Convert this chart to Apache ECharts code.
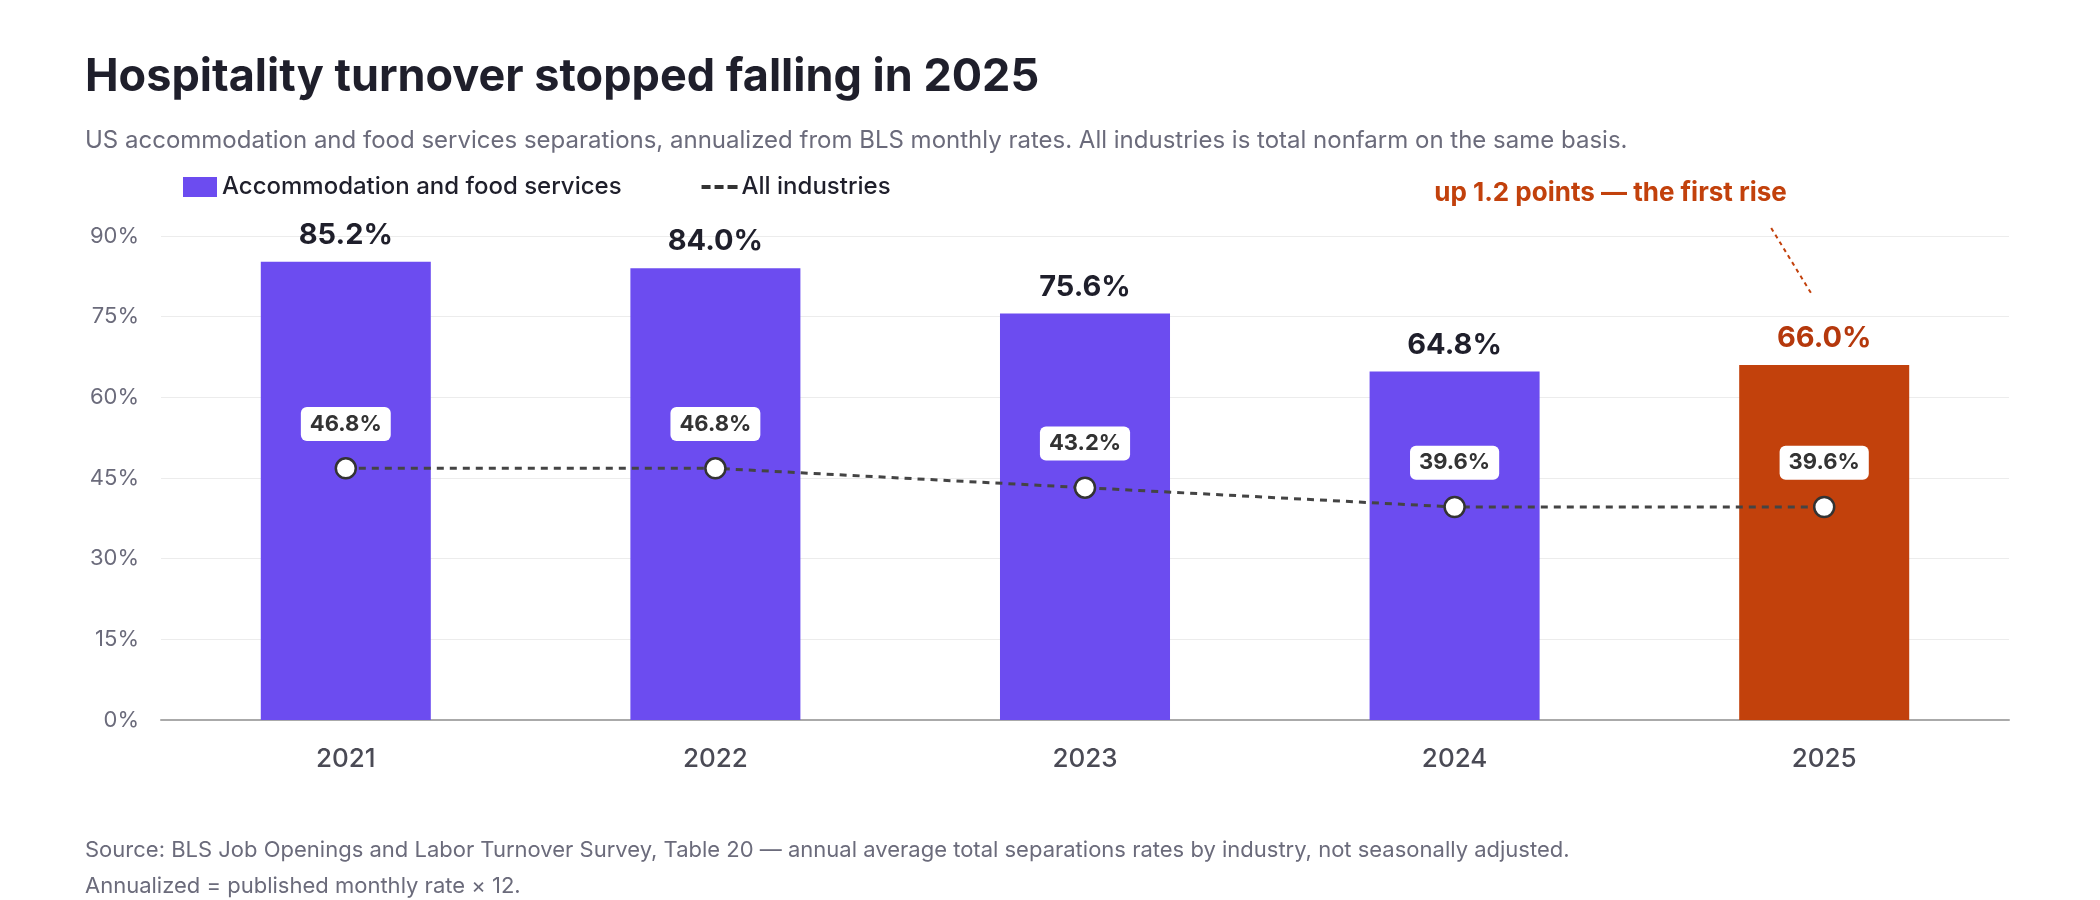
<!DOCTYPE html>
<html><head><meta charset="utf-8">
<script src="https://cdn.jsdelivr.net/npm/echarts@6/dist/echarts.min.js"></script>
<style>html,body{margin:0;padding:0;background:#fff}#c{width:2100px;height:900px}</style>
</head><body><div id="c"></div>
<script>
const years = ['2021','2022','2023','2024','2025'];
const hospitality = [85.2, 84.0, 75.6, 64.8, 66.0];
const allIndustries = [46.8, 46.8, 43.2, 39.6, 39.6];
const yTicks = [0, 15, 30, 45, 60, 75, 90];
const PURPLE = '#6c4cf0', RED = '#c2410c', DARK = '#1f1f2b', GREY = '#6b6b7b';
const F = 'Inter, "Noto Sans", sans-serif';
const chart = echarts.init(document.getElementById('c'));
chart.setOption({
  backgroundColor: '#fff',
  textStyle: { fontFamily: F },
  title: [
    { text: 'Hospitality turnover stopped falling in 2025', left: 80, top: 50,
      textStyle: { fontFamily: F, fontSize: 45, fontWeight: 'bold', color: DARK } },
    { text: 'US accommodation and food services separations, annualized from BLS monthly rates. All industries is total nonfarm on the same basis.',
      left: 80, top: 124, textStyle: { fontFamily: F, fontSize: 24, fontWeight: 'normal', color: GREY } },
    { text: 'Source: BLS Job Openings and Labor Turnover Survey, Table 20 — annual average total separations rates by industry, not seasonally adjusted.\nAnnualized = published monthly rate × 12.',
      left: 80, top: 827, textStyle: { fontFamily: F, fontSize: 22, fontWeight: 'normal', color: GREY, lineHeight: 36 } }
  ],
  legend: {
    left: 178, top: 170, itemGap: 80, itemWidth: 34, itemHeight: 20,
    textStyle: { fontFamily: F, fontSize: 24, color: DARK, fontWeight: 500 },
    data: [
      { name: 'Accommodation and food services', icon: 'rect' },
      { name: 'All industries', icon: 'path://M0,9h7v2h-7zM13,9h7v2h-7zM26,9h8v2h-8z', itemStyle: { color: '#444' } }
    ]
  },
  grid: { left: 161, right: 91, top: 236, bottom: 180 },
  xAxis: {
    type: 'category', data: years,
    axisLine: { lineStyle: { color: '#aaa', width: 2 } }, axisTick: { show: false },
    axisLabel: { fontFamily: F, fontSize: 26, color: '#4a4a55', margin: 26, fontWeight: 500 }
  },
  yAxis: {
    type: 'value', min: yTicks[0], max: yTicks[yTicks.length - 1], interval: 15,
    axisLabel: { formatter: '{value}%', fontFamily: F, fontSize: 22, color: GREY, margin: 22 },
    splitLine: { lineStyle: { color: '#ececec' } }, axisLine: { show: false }, axisTick: { show: false }
  },
  series: [
    { name: 'Accommodation and food services', type: 'bar', barWidth: '46%',
      itemStyle: { color: PURPLE },
      data: hospitality.map((v, i) => ({ value: v, itemStyle: { color: i === 4 ? RED : PURPLE },
        label: { color: i === 4 ? '#b5380c' : DARK } })),
      label: { show: true, position: 'top', distance: 12, formatter: p => p.value.toFixed(1) + '%',
        fontFamily: F, fontSize: 29, fontWeight: 'bold' } },
    { name: 'All industries', type: 'line', data: allIndustries, z: 5,
      lineStyle: { color: '#444', width: 3, type: [7, 6] }, itemStyle: { color: '#fff', borderColor: '#333', borderWidth: 2.5 },
      symbol: 'circle', symbolSize: 20,
      label: { show: true, position: 'top', distance: 16, formatter: p => p.value.toFixed(1) + '%',
        fontFamily: F, fontSize: 22, fontWeight: 'bold', color: '#333', backgroundColor: '#fff',
        borderRadius: 6, padding: [6, 9] } }
  ]
});
const p = chart.convertToPixel({ seriesIndex: 0 }, ['2025', 66]);
chart.setOption({ graphic: [
  { type: 'text', left: p[0] - 390 + 180 - 200 + 20, top: 180,
    style: { text: 'up 1.2 points — the first rise', font: 'bold 26px ' + F, fill: RED } },
  { type: 'line', shape: { x1: p[0] - 53, y1: 228, x2: p[0] - 12, y2: 295 },
    style: { stroke: RED, lineWidth: 2, lineDash: [4, 4] } }
]});
</script></body></html>
